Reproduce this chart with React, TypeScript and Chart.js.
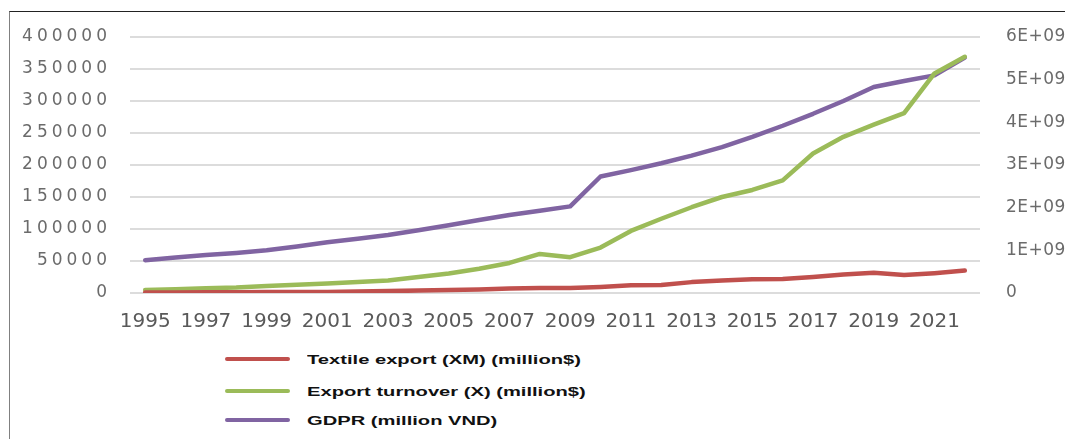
import React, { useEffect, useRef } from 'react';
import { Chart, registerables, LinearScale } from 'chart.js';

Chart.register(...registerables);

class SpacedLinearScale extends LinearScale {
  static id = 'spacedLinear';
  drawLabels(chartArea: any) {
    const ctx: any = (this as any).ctx;
    const sp = ((this as any).options && (this as any).options.letterSpacing) || '0px';
    ctx.save();
    ctx.letterSpacing = sp;
    super.drawLabels(chartArea);
    ctx.letterSpacing = '0px';
    ctx.restore();
    ctx.letterSpacing = '0px';
  }
}
Chart.register(SpacedLinearScale as any);

const years: string[] = [
  '1995', '1996', '1997', '1998', '1999', '2000', '2001', '2002', '2003', '2004',
  '2005', '2006', '2007', '2008', '2009', '2010', '2011', '2012', '2013', '2014',
  '2015', '2016', '2017', '2018', '2019', '2020', '2021', '2022',
];

const textileExport: number[] = [
  800, 900, 1100, 1200, 1400, 1500, 1500, 2200, 3000, 3800,
  4500, 5500, 7000, 8000, 8000, 9500, 12000, 12500, 17000, 19500,
  21500, 22000, 25000, 29000, 31500, 28000, 31000, 35000,
];

const exportTurnover: number[] = [
  4700, 6000, 7300, 8500, 11000, 13000, 15000, 17000, 19500, 25000,
  30500, 38000, 47000, 61000, 56000, 71000, 97000, 116000, 134000, 150000,
  161000, 176000, 218000, 244000, 263000, 281000, 343000, 369000,
];

const gdpr: number[] = [
  0.77e9, 0.83e9, 0.89e9, 0.94e9, 1.0e9, 1.09e9, 1.19e9, 1.27e9, 1.36e9, 1.47e9,
  1.59e9, 1.71e9, 1.83e9, 1.93e9, 2.03e9, 2.73e9, 2.88e9, 3.04e9, 3.22e9, 3.42e9,
  3.66e9, 3.92e9, 4.2e9, 4.5e9, 4.83e9, 4.97e9, 5.1e9, 5.52e9,
];

const seriesLabels: string[] = [
  'Textile export (XM) (million$)',
  'Export turnover (X) (million$)',
  'GDPR (million VND)',
];
const seriesColors: string[] = ['#c0504d', '#9bbb59', '#8064a2'];

export default function App() {
  const canvasRef = useRef<HTMLCanvasElement | null>(null);

  useEffect(() => {
    document.body.style.overflow = 'hidden';
    const canvas = canvasRef.current;
    if (!canvas) return;
    const mk = (i: number, data: number[], axis: string) => ({
      label: seriesLabels[i],
      data,
      borderColor: seriesColors[i],
      backgroundColor: seriesColors[i],
      borderWidth: 4.5,
      pointRadius: 0,
      yAxisID: axis,
      borderCapStyle: 'round',
      borderJoinStyle: 'round',
    });
    const chart = new Chart(canvas, {
      type: 'line',
      data: {
        labels: years,
        datasets: [
          mk(0, textileExport, 'y'),
          mk(1, exportTurnover, 'y'),
          mk(2, gdpr, 'y1'),
        ] as any,
      },
      options: {
        responsive: false,
        animation: false,
        layout: { padding: { top: 25, left: 0, right: 0, bottom: 0 } },
        plugins: {
          legend: { display: false },
          tooltip: { enabled: false },
        },
        scales: {
          x: {
            type: 'category',
            offset: true,
            grid: { display: false },
            border: { display: false },
            ticks: {
              autoSkip: false,
              maxRotation: 0,
              minRotation: 0,
              padding: 9,
              color: '#595959',
              font: { family: 'DejaVu Sans', size: 20 },
              callback: function (this: any, _v: any, i: number) {
                return i % 2 === 0 ? years[i] : '';
              },
            },
            afterFit: (s: any) => {
              s.height = 41;
              s.paddingLeft = 0;
              s.paddingRight = 0;
            },
          },
          y: {
            type: 'spacedLinear' as any,
            position: 'left',
            min: 0,
            max: 400000,
            letterSpacing: '4px',
            grid: { color: '#dcdcdc', lineWidth: 2, drawTicks: false },
            border: { display: false },
            ticks: {
              stepSize: 50000,
              padding: 19,
              color: '#6b6b6b',
              font: { family: 'DejaVu Sans', size: 17 },
              callback: (v: any) => String(v),
            },
            afterFit: (s: any) => {
              s.width = 119;
              s.paddingTop = 0;
              s.paddingBottom = 0;
            },
          } as any,
          y1: {
            type: 'spacedLinear' as any,
            position: 'right',
            min: 0,
            max: 6e9,
            letterSpacing: '0.5px',
            grid: { display: false, drawTicks: false },
            border: { display: false },
            ticks: {
              stepSize: 1e9,
              padding: 26,
              color: '#6b6b6b',
              font: { family: 'DejaVu Sans', size: 17 },
              callback: (v: any) => (v === 0 ? '0' : Math.round(v / 1e9) + 'E+09'),
            },
            afterFit: (s: any) => {
              s.width = 93;
              s.paddingTop = 0;
              s.paddingBottom = 0;
            },
          } as any,
        },
      } as any,
    });
    return () => {
      chart.destroy();
    };
  }, []);

  const rowCenters = [359, 391, 420];

  return (
    <div style={{ position: 'relative', width: 1065, height: 431, overflow: 'hidden' }}>
      <div
        style={{
          position: 'absolute',
          left: 1,
          top: 3,
          width: 1064,
          height: 428,
          boxSizing: 'border-box',
          borderTop: '1px solid #222',
          borderLeft: '1.5px solid #808080',
        }}
      />
      <canvas
        ref={canvasRef}
        width={1062}
        height={322}
        style={{ position: 'absolute', left: 3, top: 4, display: 'block' }}
      />
      {seriesLabels.map((lab, i) => (
        <div
          key={lab}
          style={{
            position: 'absolute',
            left: 217,
            top: rowCenters[i] - 8 - 10,
            height: 20,
            display: 'flex',
            alignItems: 'center',
          }}
        >
          <div
            style={{
              width: 65,
              height: 4,
              borderRadius: 2,
              background: seriesColors[i],
            }}
          />
          <div
            style={{
              marginLeft: 17,
              fontFamily: '"Liberation Sans", Arial, sans-serif',
              fontWeight: 'bold',
              fontSize: 13,
              color: '#111',
              whiteSpace: 'nowrap',
              transform: 'scaleX(1.55)',
              transformOrigin: 'left center',
            }}
          >
            {lab}
          </div>
        </div>
      ))}
    </div>
  );
}
